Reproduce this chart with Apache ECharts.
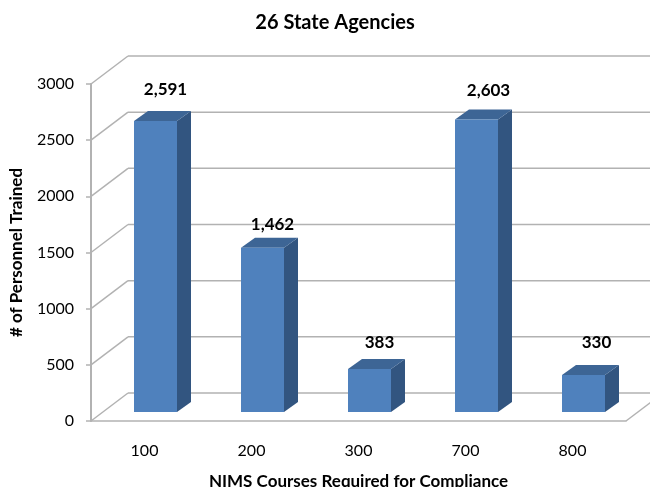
<!DOCTYPE html>
<html>
<head>
<meta charset="utf-8">
<title>26 State Agencies</title>
<style>
html, body { margin: 0; padding: 0; background: #fff; }
#chart { width: 650px; height: 487px; }
</style>
<script src="https://cdn.jsdelivr.net/npm/echarts@6/dist/echarts.min.js"></script>
</head>
<body>
<div id="chart"></div>
<script>
var categories = ['100', '200', '300', '700', '800'];
var trained = [2591, 1462, 383, 2603, 330];
var yTicks = [0, 500, 1000, 1500, 2000, 2500, 3000];

var FONT = 'Lato';
var GRID_COLOR = '#b2b2b2';
// depth of the fake 3d box
var WALL_DX = 37, WALL_DY = 28;
var BAR_DX = 14, BAR_DY = 10;
var FLOOR_DX = 11, FLOOR_DY = 9;
var BAR_W = 43;
// data labels were placed by hand in the original
var labelLift = [21, 13, 16, 19, 22];
var labelShift = [-4, -4, -4, -2, -1];

function gridLine(x1, y1, x2, y2) {
    return {
        type: 'line',
        shape: {x1: x1, y1: y1, x2: x2, y2: y2},
        style: {stroke: GRID_COLOR, lineWidth: 1.5}
    };
}

// side wall and back wall line for each tick
function renderWall(params, api) {
    var sys = params.coordSys;
    var y = api.coord([0, api.value(0)])[1];
    var left = sys.x;
    var children = [
        gridLine(left, y, left + WALL_DX, y - WALL_DY),
        gridLine(left + WALL_DX, y - WALL_DY, left + sys.width + WALL_DX, y - WALL_DY)
    ];
    if (api.value(0) === 0) {
        children.push(gridLine(left + sys.width, y, left + sys.width + WALL_DX, y - WALL_DY));
    }
    return {type: 'group', children: children};
}

function renderBar(params, api) {
    var i = api.value(0);
    var top = api.coord([i, api.value(1)]);
    var base = api.coord([i, 0]);
    var xl = top[0] + FLOOR_DX - BAR_W / 2;
    var xr = xl + BAR_W;
    var yt = top[1] - FLOOR_DY;
    var yb = base[1] - FLOOR_DY;
    return {
        type: 'group',
        children: [
            {
                type: 'polygon',
                shape: {points: [[xr, yt], [xr + BAR_DX, yt - BAR_DY], [xr + BAR_DX, yb - BAR_DY], [xr, yb]]},
                style: {fill: '#325580'}
            },
            {
                type: 'polygon',
                shape: {points: [[xl, yt], [xl + BAR_DX, yt - BAR_DY], [xr + BAR_DX, yt - BAR_DY], [xr, yt]]},
                style: {fill: '#3d6595'}
            },
            {
                type: 'rect',
                shape: {x: xl, y: yt, width: BAR_W, height: yb - yt},
                style: {fill: '#4f81bd'}
            },
            {
                type: 'text',
                style: {
                    x: xl + BAR_W / 2 + BAR_DX + labelShift[i],
                    y: yt - BAR_DY - labelLift[i],
                    text: trained[i].toLocaleString('en-US'),
                    fill: '#000',
                    font: 'bold 17px ' + FONT,
                    align: 'center',
                    verticalAlign: 'middle'
                }
            }
        ]
    };
}

var myChart = echarts.init(document.getElementById('chart'), null, {renderer: 'canvas'});
myChart.setOption({
    animation: false,
    textStyle: {fontFamily: FONT},
    title: {
        text: '26 State Agencies',
        left: 330,
        top: 8,
        textAlign: 'center',
        textStyle: {fontFamily: FONT, fontWeight: 'bold', fontSize: 20, color: '#000'}
    },
    grid: {left: 91, top: 84, width: 535, height: 337, outerBoundsMode: 'none'},
    xAxis: {
        type: 'category',
        data: categories,
        name: 'NIMS Courses Required for Compliance',
        nameLocation: 'middle',
        nameGap: 52,
        nameTextStyle: {fontFamily: FONT, fontWeight: 'bold', fontSize: 17, color: '#000'},
        axisLine: {show: true, lineStyle: {color: GRID_COLOR, width: 1.5}},
        axisTick: {show: false},
        axisLabel: {color: '#000', fontSize: 16, margin: 22, fontFamily: FONT}
    },
    yAxis: {
        type: 'value',
        min: 0,
        max: 3000,
        interval: 500,
        name: '# of Personnel Trained',
        nameLocation: 'middle',
        nameGap: 66,
        nameTextStyle: {fontFamily: FONT, fontWeight: 'bold', fontSize: 17, color: '#000'},
        axisLine: {show: true, lineStyle: {color: GRID_COLOR, width: 2}},
        axisTick: {show: true, length: 5, lineStyle: {color: GRID_COLOR, width: 1.5}},
        axisLabel: {
            color: '#000', fontSize: 16, margin: 17, fontFamily: FONT,
            formatter: function (v) { return String(v); }
        },
        splitLine: {show: false}
    },
    series: [
        {
            type: 'custom',
            renderItem: renderWall,
            data: yTicks.map(function (t) { return [t]; }),
            encode: {y: 0},
            clip: false,
            silent: true,
            z: 1
        },
        {
            type: 'custom',
            renderItem: renderBar,
            data: trained.map(function (v, i) { return [i, v]; }),
            encode: {x: 0, y: 1},
            clip: false,
            z: 2
        }
    ]
});
</script>
</body>
</html>
